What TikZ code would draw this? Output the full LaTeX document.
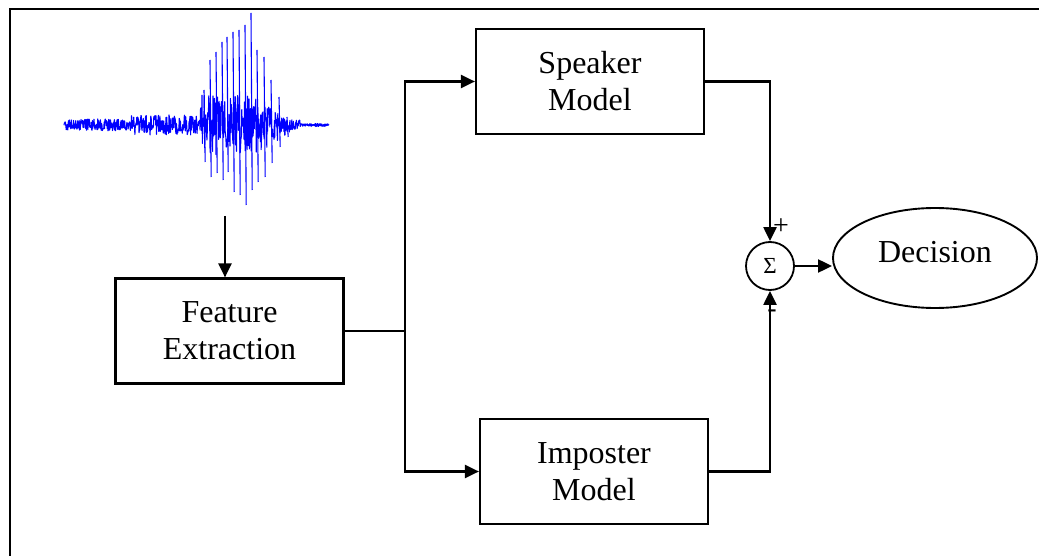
\documentclass[tikz,border=0pt]{standalone}
\usepackage{fontspec}
\setmainfont{Liberation Serif}
\usetikzlibrary{arrows.meta, positioning, shapes.geometric}

\begin{document}
\begin{tikzpicture}[
  x=1pt, y=-1pt,
  font=\fontsize{32}{37}\selectfont,
  block/.style={draw, line width=2.2pt, align=center, minimum width=228pt,
                minimum height=105pt, inner sep=0pt},
  junction/.style={draw, circle, line width=1.8pt, minimum size=48pt,
                   inner sep=0pt, font=\fontsize{23}{23}\selectfont},
  verdict/.style={draw, ellipse, line width=1.9pt, minimum width=204pt,
                  minimum height=100pt, inner sep=0pt},
  arr/.style={-{Triangle[length=14pt, width=13pt]}, line width=2.2pt},
  link/.style={line width=2.2pt},
  sign/.style={font=\fontsize{28}{28}\selectfont, inner sep=0pt},
  wave/.style={blue, line width=1.1pt, line join=round}
]
\useasboundingbox (0,0) rectangle (1039,556);

%% ---------- frame ----------
\draw[line width=2pt] (1039,9.5) -- (9.5,9.5) -- (9.5,556);

%% ---------- speech signal ----------
\pgfmathsetseed{11}
\draw[wave] plot[domain=64:329, samples=700, variable=\t]
  (\t, {125 + (\t<130 ? 6 : (\t<200 ? 10 : (\t<255 ? 30 :
        (\t<292 ? 30-(\t-255)*0.65 : (\t<300 ? 5 : 1.5)))))*rand});
\foreach \sx/\st/\sb in {204/90/162, 210/60/177, 216/52/173, 222/42/180,
    227/37/172, 233/32/192, 239/30/195, 245/25/205, 251/13/190,
    257/50/182, 264/57/177, 271/80/163, 279/97/147, 287/117/137}
  \draw[wave] (\sx,\st) -- (\sx+1.2,\sb);
\coordinate (wavefoot) at (225,216);

%% ---------- blocks ----------
\node[block] (feat) at (229.5,331) {Feature\\Extraction};
\node[block] (spk) at (590,81.5) {Speaker\\Model};
\node[block] (imp) at (594,471.5) {Imposter\\Model};
\node[junction] (sum) at (770,266) {Σ};
\node[verdict, text depth=12pt] (dec) at (935,258) {Decision};
\node[sign] (plus) at (781,227) {+};
\node[sign] (minus) at (772,314) {-};

%% ---------- flow ----------
\coordinate (split) at (405,331);
\draw[arr] (wavefoot) -- (wavefoot |- feat.north);
\draw[link] (feat.east) -- (split);
\draw[arr] (split) |- (spk.west);
\draw[arr] (split) |- (imp.west);
\draw[arr] (spk.east) -| (sum.north);
\draw[arr] (imp.east) -| (sum.south);
\draw[arr] (sum.east) -- (sum.east -| dec.west);
\end{tikzpicture}
\end{document}
